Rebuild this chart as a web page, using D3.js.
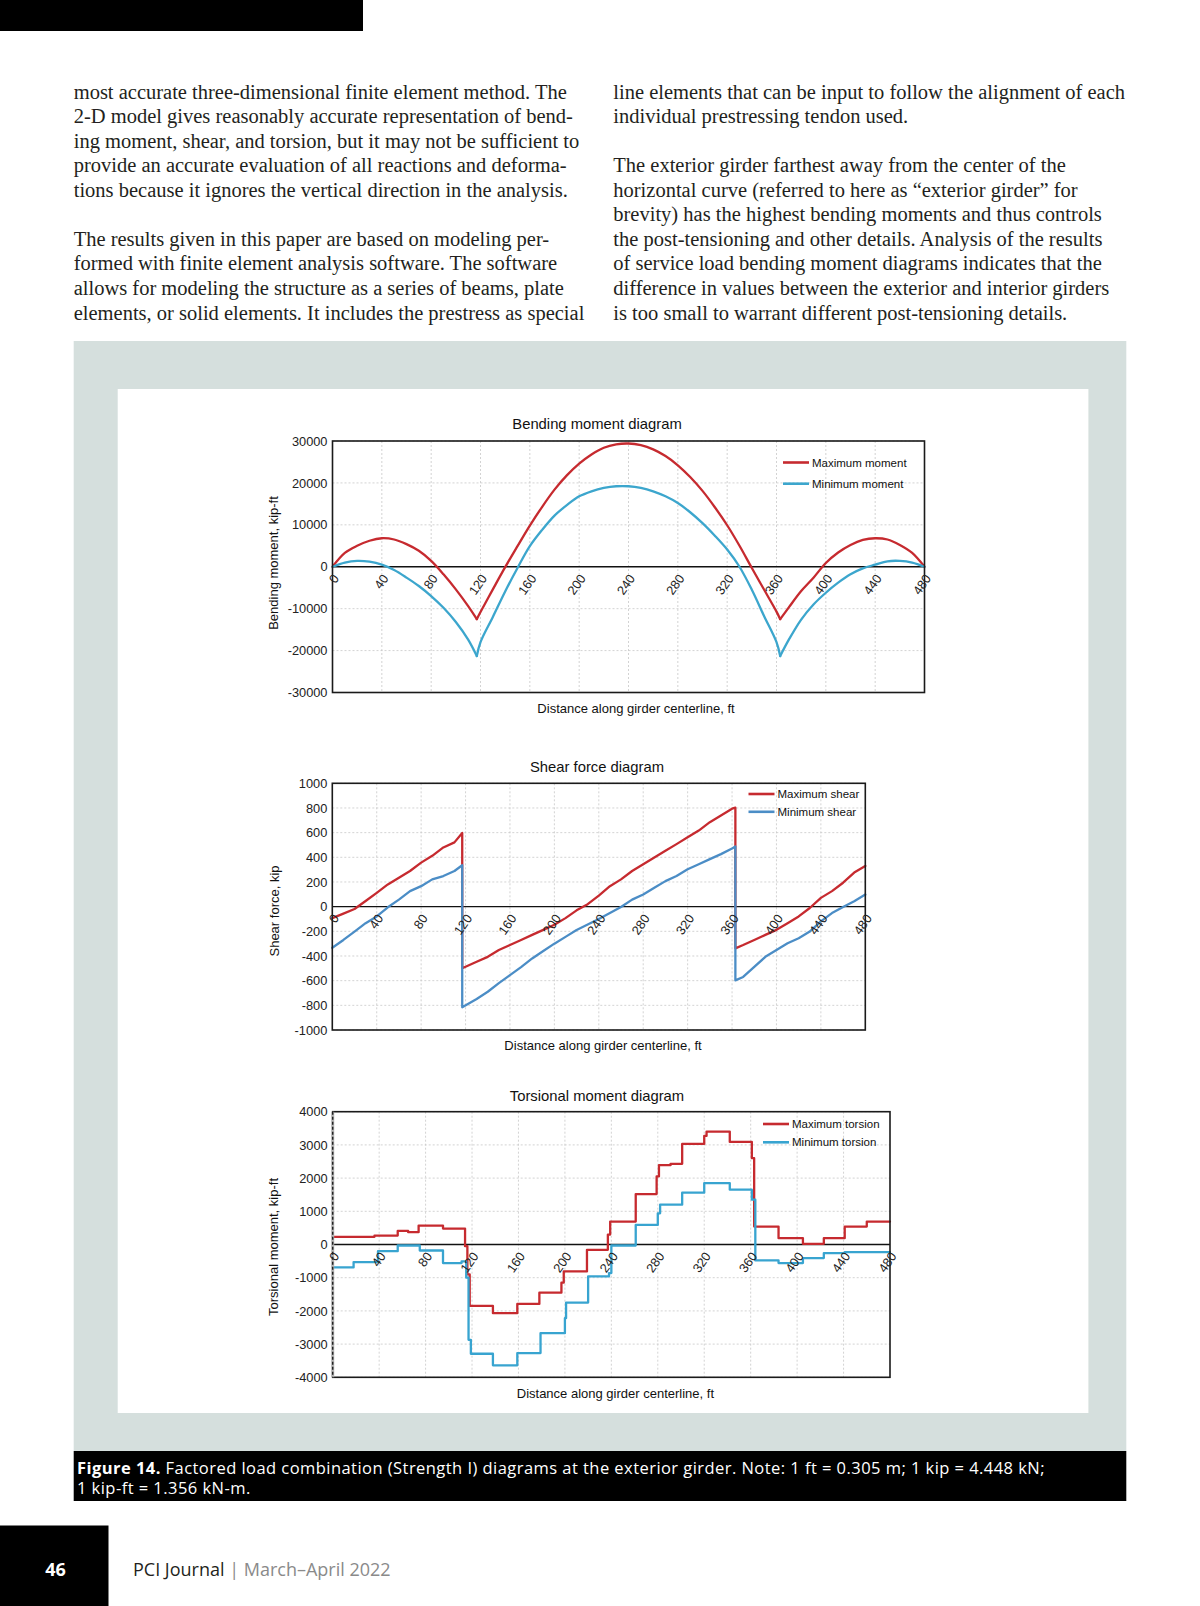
<!DOCTYPE html>
<html><head><meta charset="utf-8">
<script src="https://cdn.jsdelivr.net/npm/d3@7"></script>
<style>body{margin:0;background:#fff}svg{display:block}</style>
</head><body>
<svg id="page" width="1200" height="1606"></svg>
<script>
// ---------------- DATA ----------------
const xTicks = [0,40,80,120,160,200,240,280,320,360,400,440,480];
const supports = [117, 363];

// Bending moment (kip-ft)
const momentDistance = [0,10,20,30,40,50,60,70,80,90,100,110,117,120,130,140,150,160,170,180,190,200,210,220,230,240,250,260,270,280,290,300,310,320,330,340,350,360,363,370,380,390,400,410,420,430,440,450,460,470,480];
const maxMoment = [0,3300,5000,6200,6800,6500,5400,3800,1400,-1800,-5400,-9400,-12500,-10800,-5400,-100,4900,9800,14300,18400,21800,24600,26800,28400,29200,29400,29000,28000,26400,24200,21400,18100,14200,9900,5000,-300,-5500,-10700,-12500,-9700,-5800,-2600,900,3400,5200,6400,6800,6500,5200,3300,0];
const minMoment = [0,1000,1400,1200,500,-800,-2600,-4600,-7000,-9800,-13200,-17400,-21300,-18000,-12000,-5900,-300,4900,8800,12200,14700,16800,18000,18800,19200,19200,18800,18000,16800,15200,13000,10400,7400,4100,0,-5500,-11800,-18000,-21300,-17400,-12600,-9000,-6200,-3800,-1800,-400,500,1300,1400,1000,0];
const momentTicks = [-30000,-20000,-10000,0,10000,20000,30000];

// Shear force (kip)
const shearDistance = [0,10,20,30,40,50,60,70,80,90,100,110,117,117,130,140,150,160,170,180,190,200,210,220,230,240,250,260,270,280,290,300,310,320,330,340,350,360,363,363,370,380,390,400,410,420,430,440,450,460,470,480];
const maxShear = [-93,-57,-19,46,112,180,235,289,357,412,480,521,597,-500,-447,-407,-352,-311,-270,-229,-188,-147,-93,-30,20,90,166,221,289,344,398,453,507,562,617,685,739,794,802,-338,-311,-270,-229,-188,-134,-79,-11,71,126,194,276,330];
const minShear = [-333,-270,-202,-134,-79,-5,57,126,166,221,248,289,336,-816,-748,-690,-620,-555,-490,-420,-360,-300,-245,-190,-145,-100,-52,-3,57,98,153,207,248,303,344,385,426,472,488,-598,-570,-488,-407,-352,-297,-256,-202,-120,-52,-3,44,98];
const shearTicks = [-1000,-800,-600,-400,-200,0,200,400,600,800,1000];

// Torsional moment (kip-ft), stepped
const torsionMaxDistance = [0,36,56,65,74,95,114,116,118,138,159,178,197,199,219,237,239,261,279,281,291,301,320,322,342,361,363,384,405,423,441,460,480];
const maxTorsion = [230,270,410,370,570,480,-50,-900,-1850,-2070,-1790,-1450,-1150,-810,-160,300,690,1520,2050,2390,2430,3030,3270,3400,3090,2600,540,190,20,190,540,690,690];
const torsionMinDistance = [0,18,39,56,75,95,111,115,117,119,138,159,179,200,201,220,238,240,261,280,282,301,320,342,361,364,384,405,423,441,480];
const minTorsion = [-690,-530,-200,-30,-180,-560,-510,-1000,-2870,-3290,-3640,-3270,-2670,-2220,-1750,-960,-860,-30,590,940,1200,1560,1850,1650,1350,-480,-560,-410,-260,-230,-230];
const torsionTicks = [-4000,-3000,-2000,-1000,0,1000,2000,3000,4000];

const leftColumn = [
  "most accurate three-dimensional finite element method. The",
  "2-D model gives reasonably accurate representation of bend-",
  "ing moment, shear, and torsion, but it may not be sufficient to",
  "provide an accurate evaluation of all reactions and deforma-",
  "tions because it ignores the vertical direction in the analysis.",
  "",
  "The results given in this paper are based on modeling per-",
  "formed with finite element analysis software. The software",
  "allows for modeling the structure as a series of beams, plate",
  "elements, or solid elements. It includes the prestress as special"
];
const rightColumn = [
  "line elements that can be input to follow the alignment of each",
  "individual prestressing tendon used.",
  "",
  "The exterior girder farthest away from the center of the",
  "horizontal curve (referred to here as \u201Cexterior girder\u201D for",
  "brevity) has the highest bending moments and thus controls",
  "the post-tensioning and other details. Analysis of the results",
  "of service load bending moment diagrams indicates that the",
  "difference in values between the exterior and interior girders",
  "is too small to warrant different post-tensioning details."
];

// ---------------- PAGE ----------------
const svg = d3.select('#page');
const SANS = 'Liberation Sans, Arial, Helvetica, sans-serif';
const RED = '#c62a2f';

svg.append('rect').attr('x',0).attr('y',0).attr('width',363).attr('height',31).attr('fill','#000');

const bodyFont = {family:'Liberation Serif, Times New Roman, serif', size:20.5};
function drawColumn(lines, x0) {
  svg.append('g').selectAll('text').data(lines).join('text')
    .attr('x', x0).attr('y', (d,i)=> 98.5 + i*24.57)
    .attr('font-family', bodyFont.family).attr('font-size', bodyFont.size)
    .attr('fill','#231f20').text(d=>d);
}
drawColumn(leftColumn, 73.7);
drawColumn(rightColumn, 613.3);

svg.append('rect').attr('x',73.7).attr('y',341).attr('width',1052.6).attr('height',1110).attr('fill','#d5dfdd');
svg.append('rect').attr('x',117.7).attr('y',389).attr('width',970.7).attr('height',1024).attr('fill','#fff');

// caption
svg.append('rect').attr('x',73.7).attr('y',1451).attr('width',1052.6).attr('height',50).attr('fill','#000');
const capStyle = sel => sel.attr('font-family','Open Sans, sans-serif').attr('font-size',16.5)
  .attr('letter-spacing','0.45px').attr('fill','#fff');
const cap1 = svg.append('text').attr('x',77).attr('y',1468).attr('dy','0.35em').call(capStyle);
cap1.append('tspan').attr('font-weight','bold').text('Figure 14.');
cap1.append('tspan').text(' Factored load combination (Strength I) diagrams at the exterior girder. Note: 1 ft = 0.305 m; 1 kip = 4.448 kN;');
svg.append('text').attr('x',77).attr('y',1488.5).attr('dy','0.35em').call(capStyle)
  .text('1 kip-ft = 1.356 kN-m.');

// footer
svg.append('rect').attr('x',0).attr('y',1525.5).attr('width',108.5).attr('height',81).attr('fill','#000');
svg.append('text').attr('x',55.5).attr('y',1570).attr('dy','0.35em').attr('text-anchor','middle')
  .attr('font-family','Open Sans, sans-serif').attr('font-weight','bold').attr('font-size',18).attr('fill','#fff').text('46');
const foot = svg.append('text').attr('x',133).attr('y',1570).attr('dy','0.35em')
  .attr('font-family','Open Sans, sans-serif').attr('font-size',18).attr('fill','#231f20');
foot.append('tspan').text('PCI Journal ');
foot.append('tspan').attr('fill','#8a8a8a').text(' | March\u2013April 2022');

// ---------------- CHARTS ----------------
function drawChart(cfg) {
  const g = svg.append('g');
  const x = d3.scaleLinear().domain([0,480]).range([cfg.left, cfg.right]);
  const y = d3.scaleLinear().domain([cfg.ticks[0], cfg.ticks[cfg.ticks.length-1]]).range([cfg.bottom, cfg.top]);

  // grid
  g.append('g').selectAll('line').data(xTicks.filter(d=>d>0 && d<480)).join('line')
    .attr('x1', d=>x(d)).attr('x2', d=>x(d)).attr('y1', cfg.top).attr('y2', cfg.bottom)
    .attr('stroke','#c8c8c8').attr('stroke-width',0.8).attr('stroke-dasharray','2,2');
  g.append('g').selectAll('line').data(cfg.ticks.filter(d=>d!==0)).join('line')
    .attr('x1', cfg.left).attr('x2', cfg.right).attr('y1', d=>y(d)).attr('y2', d=>y(d))
    .attr('stroke','#c8c8c8').attr('stroke-width',0.8).attr('stroke-dasharray','2,2');

  // zero line
  g.append('line').attr('x1',cfg.left).attr('x2',cfg.right).attr('y1',y(0)).attr('y2',y(0))
    .attr('stroke','#111').attr('stroke-width',1.4);

  // series
  cfg.series.forEach(s => {
    const pts = s.xs.map((d,i)=>[d, s.ys[i]]);
    let spans = [pts];
    if (s.split) {
      spans = [];
      let cur = [];
      pts.forEach(p => {
        cur.push(p);
        if (s.split.includes(p[0])) { spans.push(cur); cur = [p]; }
      });
      if (cur.length > 1) spans.push(cur);
    }
    const line = d3.line().x(d=>x(d[0])).y(d=>y(d[1])).curve(s.curve || d3.curveLinear);
    spans.forEach(sp => {
      g.append('path').attr('d', line(sp)).attr('fill','none')
        .attr('stroke', s.color).attr('stroke-width', 2.3)
        .attr('stroke-linejoin','round').attr('stroke-linecap','round');
    });
  });

  // frame
  g.append('rect').attr('x',cfg.left).attr('y',cfg.top)
    .attr('width',cfg.right-cfg.left).attr('height',cfg.bottom-cfg.top)
    .attr('fill','none').attr('stroke','#1a1a1a').attr('stroke-width',1.6);
  if (cfg.dashedLeft) {
    g.append('line').attr('x1',cfg.left).attr('x2',cfg.left).attr('y1',cfg.top).attr('y2',cfg.bottom)
      .attr('stroke','#b5b5b5').attr('stroke-width',3);
    g.append('line').attr('x1',cfg.left).attr('x2',cfg.left).attr('y1',cfg.top).attr('y2',cfg.bottom)
      .attr('stroke','#222').attr('stroke-width',1.4).attr('stroke-dasharray','3,2');
  }

  // y axis labels
  const ya = g.append('g').attr('transform',`translate(${cfg.left},0)`)
    .call(d3.axisLeft(y).tickValues(cfg.ticks).tickSize(0).tickPadding(5).tickFormat(d => String(d)));
  ya.select('.domain').remove();
  ya.selectAll('text').attr('font-family',SANS).attr('font-size',12.8).attr('fill','#222');

  // x axis labels (rotated, at zero line)
  const xa = g.append('g').attr('transform',`translate(0,${y(0)})`)
    .call(d3.axisBottom(x).tickValues(xTicks).tickSize(0).tickFormat(d => String(d)));
  xa.select('.domain').remove();
  xa.selectAll('text').attr('font-family',SANS).attr('font-size',12.8).attr('fill','#222')
    .attr('x',0).attr('y',0).attr('dy','0.35em').attr('text-anchor','end')
    .attr('transform','translate(3,9) rotate(-55)');

  // titles
  g.append('text').attr('x',597).attr('y',cfg.titleY).attr('dy','0.35em').attr('text-anchor','middle')
    .attr('font-family',SANS).attr('font-size',14.8).attr('fill','#111').text(cfg.title);
  g.append('text').attr('x',cfg.xLabelX).attr('y',cfg.xLabelY).attr('dy','0.35em').attr('text-anchor','middle')
    .attr('font-family',SANS).attr('font-size',13).attr('fill','#111').text('Distance along girder centerline, ft');
  g.append('text').attr('transform',`translate(${cfg.yLabelX},${cfg.yLabelY}) rotate(-90)`)
    .attr('dy','0.35em').attr('text-anchor','middle')
    .attr('font-family',SANS).attr('font-size',13).attr('fill','#111').text(cfg.yLabel);

  // legend
  cfg.series.forEach((s,i) => {
    const ly = cfg.legendY + i*cfg.legendGap;
    g.append('line').attr('x1',cfg.legendX).attr('x2',cfg.legendX+26).attr('y1',ly).attr('y2',ly)
      .attr('stroke',s.color).attr('stroke-width',2.6);
    g.append('text').attr('x',cfg.legendX+29).attr('y',ly).attr('dy','0.35em')
      .attr('font-family',SANS).attr('font-size',11.5).attr('fill','#111').text(s.name);
  });
}

const smooth = d3.curveCatmullRom.alpha(0.5);

drawChart({
  left:332.5, right:924.5, top:441, bottom:692.5, ticks:momentTicks,
  title:'Bending moment diagram', titleY:424, xLabelX:636, xLabelY:708.5,
  yLabel:'Bending moment, kip-ft', yLabelX:273.4, yLabelY:563,
  legendX:783, legendY:462.5, legendGap:21.2,
  series:[
    {name:'Maximum moment', xs:momentDistance, ys:maxMoment, color:RED, curve:smooth, split:supports},
    {name:'Minimum moment', xs:momentDistance, ys:minMoment, color:'#3ca6cd', curve:smooth, split:supports}
  ]
});

drawChart({
  left:332.3, right:865.3, top:783.3, bottom:1030, ticks:shearTicks,
  title:'Shear force diagram', titleY:767, xLabelX:603, xLabelY:1045.4,
  yLabel:'Shear force, kip', yLabelX:274.4, yLabelY:911,
  legendX:748.5, legendY:794, legendGap:17.8,
  series:[
    {name:'Maximum shear', xs:shearDistance, ys:maxShear, color:RED},
    {name:'Minimum shear', xs:shearDistance, ys:minShear, color:'#4b8dc6'}
  ]
});

drawChart({
  left:332.7, right:890, top:1111.7, bottom:1377.3, ticks:torsionTicks,
  title:'Torsional moment diagram', titleY:1095.6, xLabelX:615.4, xLabelY:1393.5,
  yLabel:'Torsional moment, kip-ft', yLabelX:273.4, yLabelY:1247,
  legendX:763, legendY:1124, legendGap:18.3, dashedLeft:true,
  series:[
    {name:'Maximum torsion', xs:torsionMaxDistance, ys:maxTorsion, color:RED, curve:d3.curveStepAfter},
    {name:'Minimum torsion', xs:torsionMinDistance, ys:minTorsion, color:'#38a4d0', curve:d3.curveStepAfter}
  ]
});
</script>
</body></html>
